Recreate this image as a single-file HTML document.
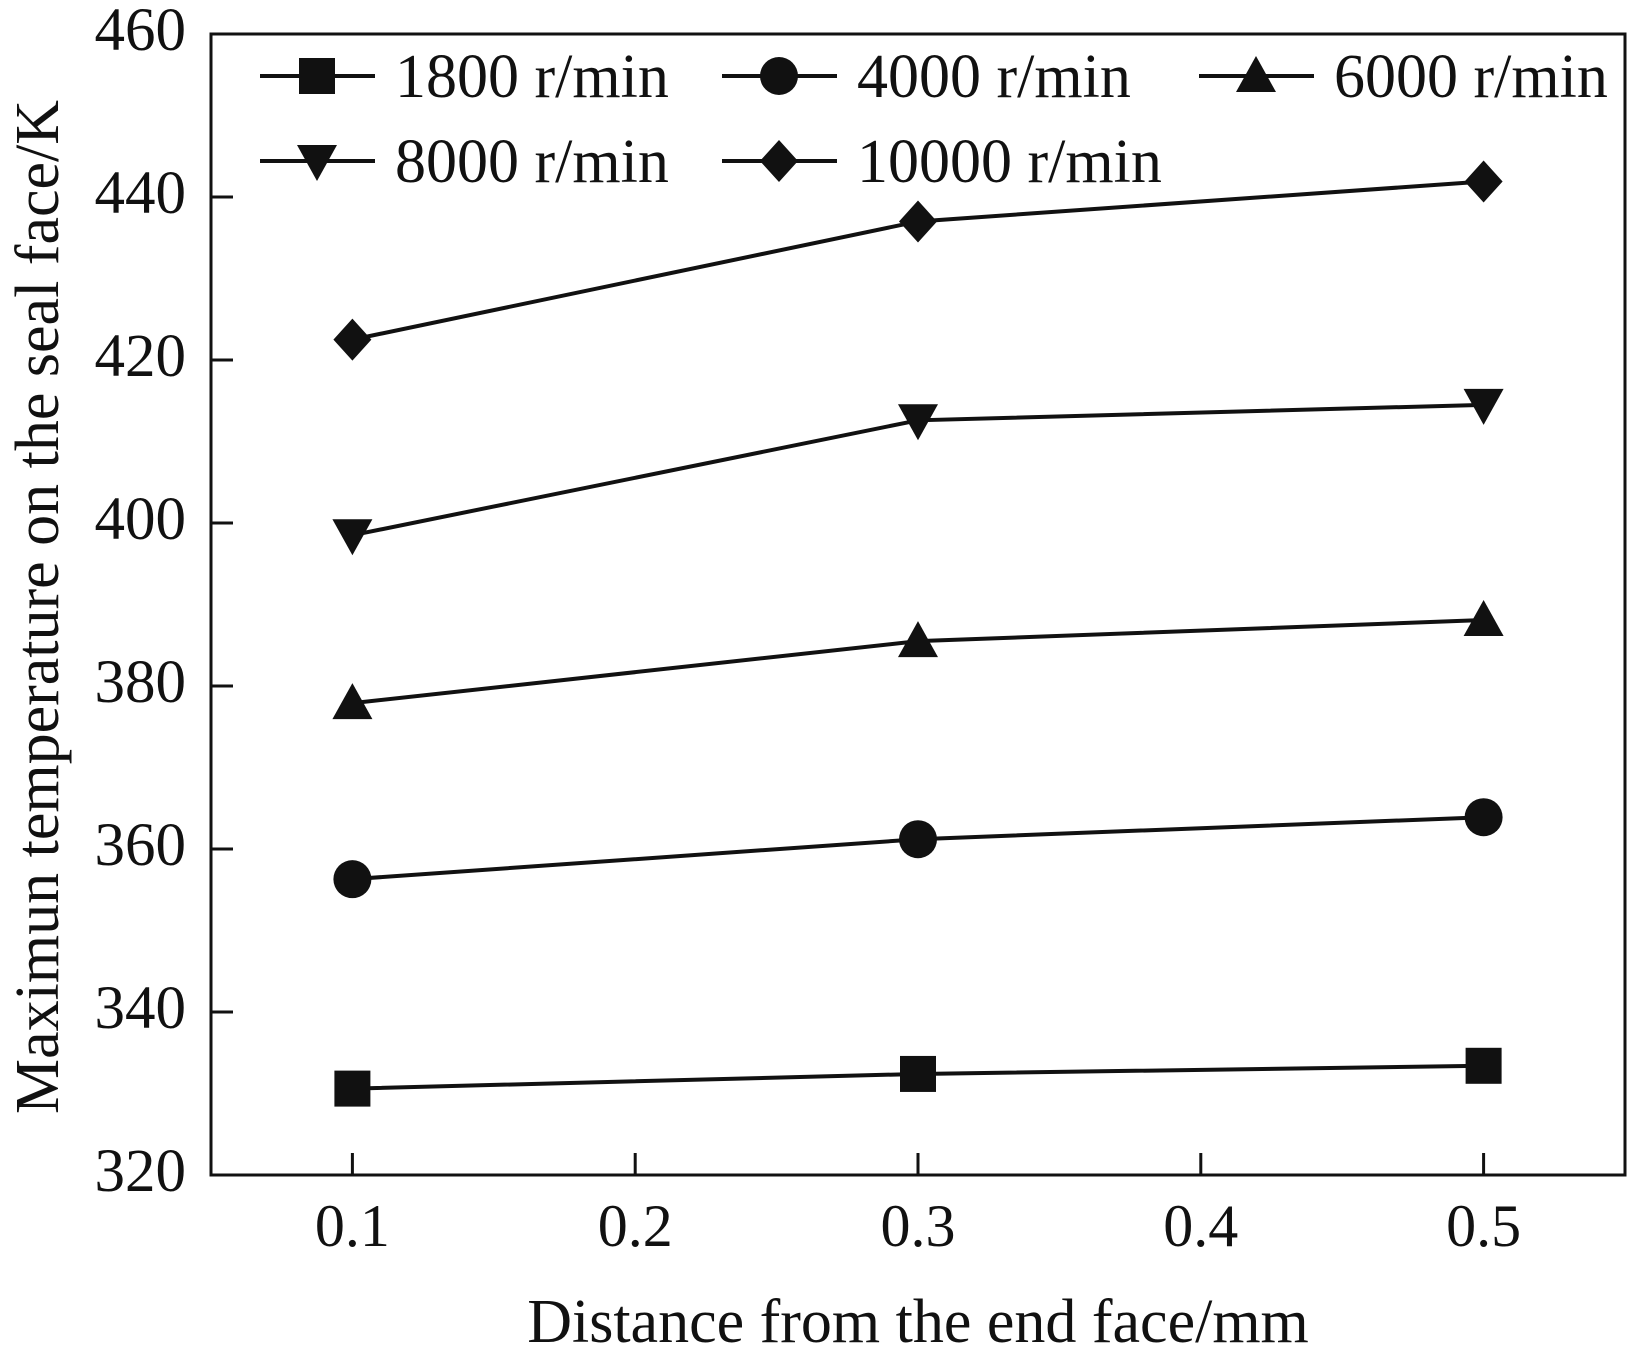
<!DOCTYPE html>
<html><head><meta charset="utf-8"><style>
body{margin:0;background:#fff}
svg text{font-family:"Liberation Serif",serif;fill:#111}
</style></head><body>
<svg id="chart" width="1628" height="1359" xmlns="http://www.w3.org/2000/svg">
<rect x="211" y="34" width="1414" height="1141" fill="none" stroke="#111" stroke-width="3"/>
<g id="ticks"></g><g id="series"></g><g id="legend"></g>
<text x="918" y="1342" font-size="62" text-anchor="middle">Distance from the end face/mm</text>
<text transform="translate(58,607) rotate(-90)" font-size="62" text-anchor="middle">Maximun temperature on the seal face/K</text>
</svg>
<script>
const xCats=[0.1,0.3,0.5];
const xTicks=[0.1,0.2,0.3,0.4,0.5];
const yTicks=[320,340,360,380,400,420,440,460];
const seriesNames=["1800 r/min","4000 r/min","6000 r/min","8000 r/min","10000 r/min"];
const s1800=[330.6,332.4,333.4];
const s4000=[356.3,361.2,363.9];
const s6000=[377.9,385.5,388.1];
const s8000=[398.5,412.6,414.5];
const s10000=[422.5,437.0,441.9];
const markers=["square","circle","triangle","tridown","diamond"];
const allSeries=[s1800,s4000,s6000,s8000,s10000];
const NS="http://www.w3.org/2000/svg";
const L=211,R=1625,T=34,B=1175;
const xs=v=>L+(v-0.05)/(0.5)*(R-L);
const ys=v=>B-(v-320)/140*(B-T);
function mk(tag,attrs,parent){const e=document.createElementNS(NS,tag);for(const k in attrs)e.setAttribute(k,attrs[k]);parent.appendChild(e);return e;}
const tg=document.getElementById('ticks');
xTicks.forEach(t=>{
 const l=mk('line',{x1:xs(t),x2:xs(t),y1:B,y2:B-22,stroke:'#111','stroke-width':3},tg);
 
 
 const tx=mk('text',{x:xs(t),y:1246,'font-size':60,'text-anchor':'middle'},tg);tx.textContent=t.toFixed(1);
 
 
});
yTicks.forEach(t=>{
 const l=mk('line',{x1:L,x2:L+22,y1:ys(t),y2:ys(t),stroke:'#111','stroke-width':3},tg);
 
 
 const tx=mk('text',{x:186,y:ys(t)+16,'font-size':61,'text-anchor':'end'},tg);tx.textContent=t;
 
 
});
function marker(type,cx,cy,p){
 const s=18;
 if(type==='square')return mk('rect',{x:cx-s,y:cy-s,width:2*s,height:2*s,fill:'#111'},p);
 if(type==='circle')return mk('circle',{cx:cx,cy:cy,r:s+1,fill:'#111'},p);
 if(type==='triangle')return mk('polygon',{points:`${cx},${cy-s-2} ${cx-s-2},${cy+s-2} ${cx+s+2},${cy+s-2}`,fill:'#111'},p);
 if(type==='tridown')return mk('polygon',{points:`${cx},${cy+s+2} ${cx-s-2},${cy-s+2} ${cx+s+2},${cy-s+2}`,fill:'#111'},p);
 return mk('polygon',{points:`${cx},${cy-s-3} ${cx+s+1},${cy} ${cx},${cy+s+3} ${cx-s-1},${cy}`,fill:'#111'},p);
}
const sg=document.getElementById('series');
allSeries.forEach((arr,i)=>{
 const g=mk('g',{},sg);
 
 
 const pl=mk('polyline',{points:arr.map((v,j)=>xs(xCats[j])+','+ys(v)).join(' '),fill:'none',stroke:'#111','stroke-width':4},g);
 
 
 arr.forEach((v,j)=>{const m=marker(markers[i],xs(xCats[j]),ys(v),g);
  
  });
});
const lg=document.getElementById('legend');
const lx=[260,722,1199],ly=[76,161];
seriesNames.forEach((n,i)=>{
 const x=lx[i%3],y=ly[Math.floor(i/3)];
 const g=mk('g',{},lg);
 
 
 mk('line',{x1:x,x2:x+115,y1:y,y2:y,stroke:'#111','stroke-width':4},g);
 marker(markers[i],x+57,y,g);
 const t=mk('text',{x:x+135,y:y+21,'font-size':62},g);t.textContent=n;
});
</script>
</body></html>
